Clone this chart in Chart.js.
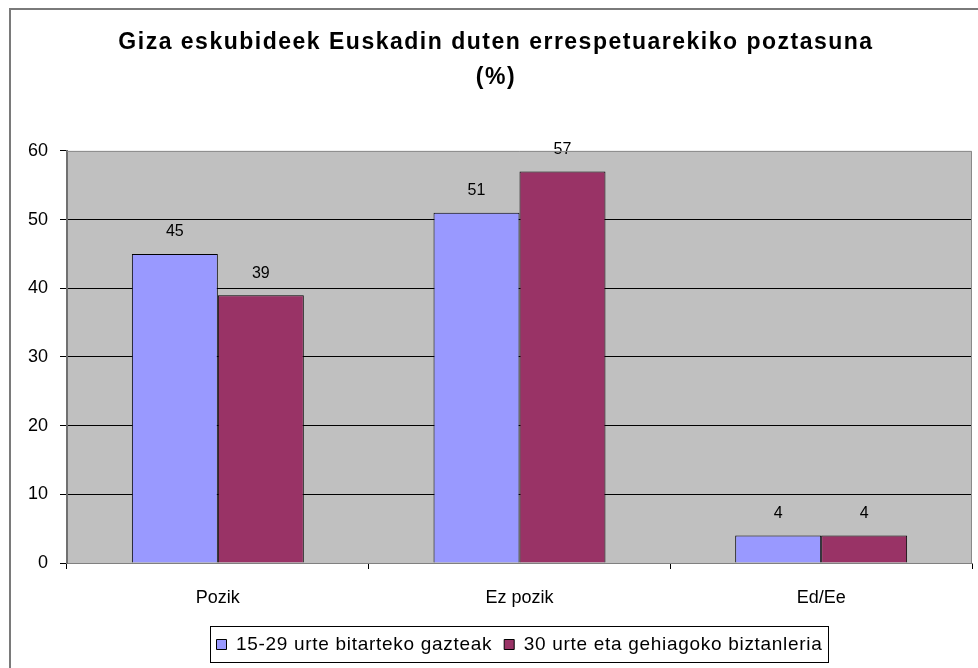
<!DOCTYPE html>
<html><head><meta charset="utf-8">
<script src="https://cdn.jsdelivr.net/npm/chart.js@4/dist/chart.umd.min.js"></script>
<style>html,body{margin:0;padding:0;background:#fff;}#wrap{width:978px;height:668px;position:relative;}</style>
</head><body><div id="wrap"><canvas id="c" width="978" height="668"></canvas></div>
<script>
const categories = ["Pozik", "Ez pozik", "Ed/Ee"];
const youthValues = [45, 51, 4];
const adultValues = [39, 57, 4];
const seriesNames = ["15-29 urte bitarteko gazteak", "30 urte eta gehiagoko biztanleria"];
const titleLines = ["Giza eskubideek Euskadin duten errespetuarekiko poztasuna", "(%)"];
const yTicks = [0, 10, 20, 30, 40, 50, 60];

const FONT = "'Liberation Sans', Arial, sans-serif";

const framePlugin = {
  id: 'frame',
  beforeDraw(chart) {
    const ctx = chart.ctx, a = chart.chartArea;
    ctx.save();
    ctx.fillStyle = '#fff';
    ctx.fillRect(0, 0, chart.width, chart.height);
    ctx.strokeStyle = '#7a7a7a';
    ctx.lineWidth = 2;
    ctx.strokeRect(10, 9, chart.width + 20, chart.height + 20);
    ctx.fillStyle = '#C0C0C0';
    ctx.fillRect(a.left, a.top, a.right - a.left, a.bottom - a.top);
    ctx.restore();
  },
  afterDraw(chart) {
    const ctx = chart.ctx, a = chart.chartArea;
    ctx.save();
    ctx.strokeStyle = '#8a8a8a';
    ctx.lineWidth = 1;
    ctx.beginPath();
    ctx.moveTo(a.left, a.top + 0.5);
    ctx.lineTo(a.right - 0.5, a.top + 0.5);
    ctx.lineTo(a.right - 0.5, a.bottom);
    ctx.stroke();
    const hb = chart.legend && chart.legend.legendHitBoxes;
    if (hb && hb.length) {
      const first = hb[0], last = hb[hb.length - 1];
      const x0 = first.left - 7, x1 = last.left + last.width + 5;
      const y0 = first.top - 9, y1 = first.top + first.height + 8;
      ctx.strokeStyle = '#000';
      ctx.lineWidth = 1;
      ctx.strokeRect(Math.round(x0) + 0.5, Math.round(y0) + 0.5, Math.round(x1 - x0), Math.round(y1 - y0));
    }
    ctx.restore();
  },
  afterDatasetsDraw(chart) {
    const ctx = chart.ctx;
    ctx.save();
    ctx.font = "16px " + FONT;
    ctx.fillStyle = '#000';
    ctx.textAlign = 'center';
    ctx.textBaseline = 'middle';
    chart.data.datasets.forEach((ds, i) => {
      chart.getDatasetMeta(i).data.forEach((el, j) => {
        ctx.fillText(String(ds.data[j]), el.x, el.y - 22);
      });
    });
    ctx.restore();
  }
};

const chart = new Chart(document.getElementById('c'), {
  type: 'bar',
  data: {
    labels: categories,
    datasets: [
      { label: seriesNames[0], data: youthValues, backgroundColor: '#9999FF', borderColor: '#000', borderWidth: 1,
        categoryPercentage: 0.57, barPercentage: 1.0 },
      { label: seriesNames[1], data: adultValues, backgroundColor: '#993366', borderColor: '#000', borderWidth: 1,
        categoryPercentage: 0.57, barPercentage: 1.0 }
    ]
  },
  options: {
    responsive: false,
    animation: false,
    devicePixelRatio: 1,
    layout: { padding: { left: 20, right: 6, top: 0, bottom: 4 } },
    plugins: {
      title: {
        display: true,
        text: titleLines,
        color: '#000',
        font: { family: FONT, size: 23, weight: 'bold', lineHeight: 1.52 },
        padding: { top: 25, bottom: 56 }
      },
      legend: {
        display: true,
        position: 'bottom',
        fullSize: false,
        labels: {
          color: '#000',
          font: { family: FONT, size: 19 },
          boxWidth: 10,
          boxHeight: 10,
          padding: 12
        }
      },
      tooltip: { enabled: false }
    },
    scales: {
      x: {
        grid: { display: true, drawOnChartArea: false, drawTicks: true, tickLength: 6, color: '#000', offset: true },
        border: { display: true, color: '#808080', width: 1 },
        ticks: { color: '#000', font: { family: FONT, size: 18 }, padding: 18 },
        afterFit(s) { s.height = 60; }
      },
      y: {
        min: 0, max: 60,
        afterBuildTicks(s) { s.ticks = yTicks.map(v => ({ value: v })); },
        grid: {
          color: c => (c.tick && c.tick.value === 60) ? 'rgba(0,0,0,0)' : '#000',
          tickColor: '#000',
          tickLength: 7,
          lineWidth: 1
        },
        border: { display: true, color: '#707070', width: 2 },
        ticks: { color: '#000', font: { family: FONT, size: 18 }, padding: 12 },
        afterFit(s) { s.width = 47; }
      }
    }
  },
  plugins: [framePlugin]
});

function withSpacing(obj, method, sp) {
  const orig = obj[method];
  obj[method] = function (...args) {
    const ctx = this.ctx;
    const prev = ctx.letterSpacing;
    ctx.letterSpacing = sp;
    try { return orig.apply(this, args); } finally { ctx.letterSpacing = prev || '0px'; }
  };
}
if (chart.titleBlock) withSpacing(chart.titleBlock, 'draw', '1.5px');
if (chart.legend) { withSpacing(chart.legend, 'fit', '0.7px'); withSpacing(chart.legend, 'draw', '0.7px'); }
chart.update();
</script>
</body></html>
